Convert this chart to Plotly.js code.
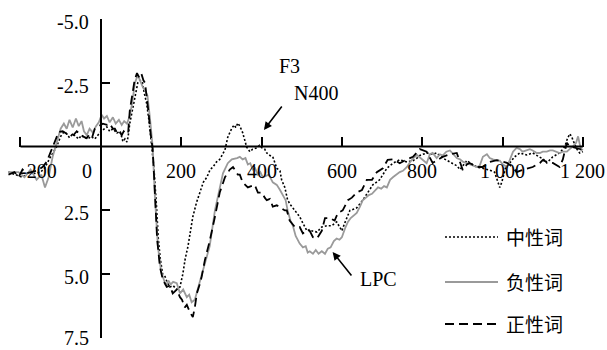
<!DOCTYPE html>
<html>
<head>
<meta charset="utf-8">
<script src="https://cdn.plot.ly/plotly-3.0.1.min.js"></script>
<style>html,body{margin:0;padding:0;background:#fff;}#chart{width:607px;height:350px;}</style>
</head>
<body>
<div id="chart"></div>
<script>
// ---- data (time in ms, amplitude in µV; y axis is inverted) ----
const seriesNames = ["中性词", "负性词", "正性词"];
const xTickVals = [-200, 0, 200, 400, 600, 800, 1000, 1200];
const xTickText = ["-200", "0", "200", "400", "600", "800", "1 000", "1 200"];
const yTickVals = [-5, -2.5, 2.5, 5, 7.5];
const yTickText = ["-5.0", "-2.5", "2.5", "5.0", "7.5"];

// neutral words (dotted)
const neutralT = [-230,-210,-195,-180,-165,-150,-140,-127,-118,-110,-100,-92,-85,-78,-70,-62,-55,-48,-40,-32,-25,-15,-8,-2,5,15,22,30,40,48,55,60,65,68,72,77,84,92,97,103,108,114,120,126,132,138,143,148,154,160,166,172,180,189,197,204,210,217,224,229,238,246,255,264,272,279,288,296,303,309,316,322,326,332,336,341,346,353,358,363,371,378,388,395,401,408,413,421,428,438,446,450,458,465,473,483,495,503,513,520,525,538,550,563,575,587,600,607,615,620,630,637,652,665,677,694,705,712,727,744,762,777,787,794,802,811,826,836,851,869,886,894,905,911,925,936,950,968,980,986,993,998,1001,1008,1018,1030,1043,1060,1075,1093,1102,1110,1118,1125,1142,1155,1160,1167,1172,1175,1185,1192,1200];
const neutralV = [1.0,1.1,1.2,1.0,1.05,1.0,0.85,0.45,0.2,0.0,-0.4,-0.57,-0.5,-0.35,-0.5,-0.4,-0.3,-0.45,-0.35,-0.3,-0.4,-0.3,-0.45,-0.55,-0.65,-0.77,-0.6,-0.7,-0.53,-0.6,-0.2,-0.3,-0.18,-0.4,-0.9,-1.3,-2.0,-2.5,-2.6,-2.55,-2.1,-1.7,-1.0,-0.2,0.8,2.2,3.6,4.4,5.0,5.1,5.35,5.5,5.45,5.6,5.5,5.0,4.4,3.9,3.2,2.75,2.2,1.8,1.4,1.2,0.9,0.8,0.6,0.5,0.3,0.13,-0.37,-0.6,-0.72,-0.85,-0.75,-0.92,-0.8,-0.55,-0.26,0.02,0.2,0.1,0.05,-0.05,0.05,0.1,0.25,0.35,0.4,0.85,0.95,1.3,1.6,2.1,2.3,2.5,2.75,3.0,3.3,3.25,3.3,3.35,3.15,3.1,3.1,2.95,3.3,3.0,2.7,2.5,2.45,2.4,2.1,1.8,1.5,1.3,1.0,0.85,0.65,0.52,0.6,0.55,0.45,0.35,0.3,0.25,0.3,0.25,0.45,0.6,0.75,0.9,0.7,0.55,0.7,0.8,0.85,0.92,1.0,1.3,1.6,1.4,1.2,0.8,0.64,0.4,0.25,0.33,0.25,0.4,0.5,0.64,0.5,0.4,0.25,0.0,-0.25,-0.5,-0.4,-0.26,0.1,0.25,0.2];

// negative words (grey solid)
const negativeT = [-231,-205,-190,-175,-160,-148,-139,-130,-120,-110,-100,-92,-85,-78,-70,-62,-55,-48,-42,-35,-28,-20,-12,-5,2,8,15,22,30,37,45,52,58,65,72,78,85,92,98,104,110,116,122,129,134,142,150,156,162,168,174,180,189,197,205,214,220,226,234,241,248,254,262,271,284,296,304,316,326,339,346,353,360,366,372,378,384,391,397,403,410,418,428,438,446,453,460,465,472,478,485,495,503,510,515,520,528,535,542,550,558,565,572,580,587,594,600,608,615,622,630,637,645,652,660,667,675,683,690,698,705,712,720,727,735,744,752,762,770,778,787,795,803,811,819,826,836,844,851,860,869,878,886,894,902,911,918,927,936,943,951,961,968,976,986,993,1001,1011,1018,1026,1035,1043,1050,1060,1068,1075,1085,1093,1100,1110,1118,1125,1134,1142,1150,1160,1167,1175,1183,1188,1192,1196,1200];
const negativeV = [1.0,1.0,1.2,0.9,1.3,1.1,1.6,1.2,0.4,-0.2,-0.7,-0.9,-0.7,-1.05,-0.75,-1.1,-0.8,-1.0,-0.6,-0.45,-0.7,-0.55,-0.8,-0.95,-1.25,-1.1,-1.2,-0.95,-1.15,-0.9,-1.05,-0.85,-1.0,-0.9,-1.2,-1.7,-2.5,-2.8,-2.55,-2.35,-2.2,-2.0,-1.16,0.0,1.8,3.9,4.9,5.2,5.45,5.25,5.4,5.3,5.35,5.75,5.6,5.9,5.8,6.1,6.0,5.6,5.2,4.96,4.4,3.9,2.5,1.6,1.05,0.65,0.5,0.45,0.4,0.5,0.45,0.7,0.65,0.9,0.85,1.1,1.0,1.2,1.15,1.1,1.4,1.5,1.7,1.9,2.1,2.5,2.9,3.1,3.5,3.8,3.95,3.9,4.15,4.1,4.2,4.05,4.2,4.1,4.2,4.0,3.95,3.7,3.6,3.65,3.55,3.2,2.95,2.8,2.7,2.6,2.35,2.1,2.0,1.9,1.85,1.7,1.6,1.65,1.55,1.6,1.3,1.2,1.1,1.0,0.95,0.8,0.6,0.45,0.33,0.45,0.55,0.65,0.3,0.25,0.45,0.3,0.35,0.2,0.15,0.3,0.45,0.5,0.6,0.65,0.7,0.75,0.8,0.75,0.4,0.3,0.45,0.5,0.55,0.55,0.7,0.8,0.5,0.2,0.05,0.1,0.2,0.15,0.1,0.15,0.25,0.25,0.2,0.2,0.15,0.15,0.2,0.25,0.2,0.2,0.1,0.0,-0.15,-0.4,-0.1,0.15,0.1];

// positive words (black dashed)
const positiveT = [-230,-215,-205,-195,-185,-175,-160,-145,-135,-122,-112,-105,-95,-85,-77,-68,-60,-52,-45,-35,-30,-22,-15,-5,5,15,22,30,35,42,47,52,57,62,68,72,78,84,90,96,101,106,110,114,119,124,129,134,140,147,154,164,172,179,189,197,202,209,214,222,229,234,239,246,251,259,271,284,296,309,321,329,334,341,346,353,366,376,383,391,401,408,413,421,428,438,446,458,463,470,483,495,503,513,520,528,538,544,550,558,570,582,590,602,615,625,637,650,662,675,687,702,714,727,744,762,777,794,811,826,840,851,869,886,901,911,918,936,951,968,986,1001,1011,1025,1035,1043,1050,1060,1075,1093,1100,1110,1125,1142,1150,1160,1167,1175,1190,1200];
const positiveV = [1.1,1.0,1.2,0.9,1.05,1.0,0.95,0.8,0.6,0.1,-0.3,-0.57,-0.6,-0.5,-0.55,-0.45,-0.6,-0.5,-0.4,-0.33,-0.45,-0.35,-0.7,-0.8,-0.9,-0.85,-0.9,-0.7,-0.7,-0.5,-0.57,-0.45,-0.6,-0.5,-0.55,-1.4,-2.0,-2.6,-2.88,-2.7,-2.85,-2.6,-2.5,-2.0,-1.3,-0.5,0.1,1.6,3.6,4.7,5.2,5.5,5.45,5.75,5.6,5.9,6.0,6.3,6.2,6.5,6.68,6.3,5.75,5.4,5.1,4.45,3.7,2.75,1.8,1.2,0.9,0.8,0.92,1.1,1.1,1.4,1.6,1.55,1.5,1.8,1.8,2.0,2.1,2.05,2.35,2.3,2.37,2.5,2.5,2.9,3.15,3.15,3.4,3.3,3.3,3.55,3.6,3.45,3.3,2.8,2.8,2.9,2.6,2.5,2.1,2.0,1.8,1.7,1.3,1.3,1.0,0.85,0.52,0.5,0.65,0.5,0.4,0.1,0.2,0.64,0.5,0.4,0.3,0.25,0.92,0.7,0.64,0.8,0.8,0.6,0.53,0.6,0.64,0.8,1.0,0.95,0.92,0.85,0.8,0.64,0.53,0.6,0.64,0.8,0.5,-0.15,0.0,0.02,0.1,0.13];

// ---- geometry helpers (pixels of the 607x350 frame) ----
const W = 607, H = 350;
const M = {l: 0, r: 4, t: 19, b: 12};
const X0 = -251, X1 = 1250;
const pw = W - M.l - M.r, ph = H - M.t - M.b;
const px2pX = p => (p - M.l) / pw;
const px2pY = p => (H - M.b - p) / ph;
const xFrac = v => (v - X0) / (X1 - X0);

const dotted = "2px,2px";
const dashed = "9px,5px";
const grey = "#9a9a9a";
const serif = "Liberation Serif, Times New Roman, serif";
const cjk = "Noto Sans CJK SC, sans-serif";

const traces = [
  {x: neutralT, y: neutralV, name: seriesNames[0], mode: "lines",
   line: {color: "#000", width: 1.6, dash: dotted}},
  {x: negativeT, y: negativeV, name: seriesNames[1], mode: "lines",
   line: {color: grey, width: 1.8}},
  {x: positiveT, y: positiveV, name: seriesNames[2], mode: "lines",
   line: {color: "#000", width: 1.8, dash: dashed}}
];

const annotations = [];
// x tick labels (below the zero line)
const xShift = {"-200": 18, "0": -14};
xTickVals.forEach((v, i) => {
  annotations.push({x: v, y: 0.96, xref: "x", yref: "y", text: xTickText[i],
    showarrow: false, xanchor: "center", yanchor: "middle",
    xshift: xShift[String(v)] || 0,
    font: {family: serif, size: 20, color: "#000"}});
});
// y tick labels (slightly below their ticks, as in the original)
yTickVals.forEach((v, i) => {
  annotations.push({x: 0, y: v, xref: "x", yref: "y", text: yTickText[i],
    showarrow: false, xanchor: "right", yanchor: "middle", xshift: -11,
    yshift: v === 7.5 ? 0 : -3, borderpad: 0,
    font: {family: serif, size: 20, color: "#000"}});
});
// component labels
annotations.push({x: 469, y: -3.16, xref: "x", yref: "y", text: "F3", showarrow: false,
  font: {family: serif, size: 20, color: "#000"}});
annotations.push({x: 535, y: -2.1, xref: "x", yref: "y", text: "N400", showarrow: false,
  font: {family: serif, size: 20, color: "#000"}});
annotations.push({x: 692, y: 5.19, xref: "x", yref: "y", text: "LPC", showarrow: false,
  font: {family: serif, size: 20, color: "#000"}});
// arrows
annotations.push({x: 406, y: -0.65, xref: "x", yref: "y", text: "", showarrow: true,
  ax: 19, ay: -25, arrowhead: 2, arrowsize: 1, arrowwidth: 1.6, arrowcolor: "#000", standoff: 0});
annotations.push({x: 577, y: 4.13, xref: "x", yref: "y", text: "", showarrow: true,
  ax: 20, ay: 25, arrowhead: 2, arrowsize: 1, arrowwidth: 1.6, arrowcolor: "#000", standoff: 0});

// legend (drawn by hand)
const legRows = [237, 282, 324];
const legStyles = [
  {color: "#000", width: 1.6, dash: dotted},
  {color: grey, width: 2},
  {color: "#000", width: 2, dash: dashed}
];
const shapes = [
  {type: "line", xref: "x", yref: "y", x0: -200, x1: 1200, y0: 0, y1: 0,
   line: {color: "#000", width: 2}}
];
legRows.forEach((py, i) => {
  shapes.push({type: "line", xref: "paper", yref: "paper",
    x0: px2pX(445), x1: px2pX(498), y0: px2pY(py), y1: px2pY(py), line: legStyles[i]});
  annotations.push({xref: "paper", yref: "paper", x: px2pX(504), y: px2pY(py - 1),
    text: seriesNames[i], showarrow: false, xanchor: "left", yanchor: "middle",
    font: {family: cjk, size: 19, color: "#000"}});
});

const layout = {
  width: W, height: H,
  margin: M,
  paper_bgcolor: "#fff", plot_bgcolor: "#fff",
  showlegend: false,
  xaxis: {range: [X0, X1], anchor: "free", position: 0.6,
    tickvals: xTickVals, ticks: "inside", ticklen: 10, tickwidth: 2, tickcolor: "#000",
    showticklabels: false, showline: false, showgrid: false, zeroline: false},
  yaxis: {range: [7.5, -5], anchor: "free", position: xFrac(0),
    tickvals: yTickVals, ticks: "inside", ticklen: 8, tickwidth: 2,
    tickcolor: "#000", showline: true, linecolor: "#000", linewidth: 2,
    showgrid: false, zeroline: false, showticklabels: false},
  shapes: shapes,
  annotations: annotations
};

Plotly.newPlot("chart", traces, layout, {staticPlot: true, displayModeBar: false});
</script>
</body>
</html>
